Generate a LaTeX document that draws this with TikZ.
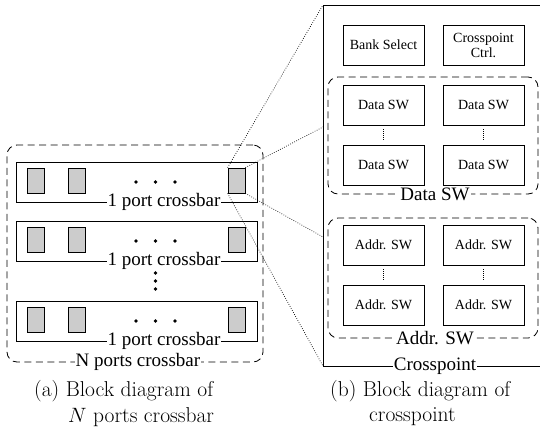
\documentclass[tikz,border=0pt]{standalone}
\usepackage{fontspec}
\setmainfont{Latin Modern Roman}
\newfontfamily\tms{Liberation Serif}
\begin{document}
\begin{tikzpicture}[x=1pt, y=-1pt,
  box/.style={draw, line width=0.8pt, minimum width=81pt, minimum height=40pt,
    inner sep=0pt, align=center, font=\tms\fontsize{14}{15}\selectfont},
  rowbox/.style={draw, line width=0.8pt, minimum width=241pt, minimum height=40pt,
    inner sep=0pt, anchor=north west},
  cell/.style={draw, line width=0.8pt, fill=black!20, minimum width=17pt,
    minimum height=25pt, inner sep=0pt},
  grp/.style={draw, line width=0.8pt, dash pattern=on 7pt off 4.5pt,
    rounded corners=10pt, inner sep=0pt},
  lbl/.style={fill=white, inner sep=1pt, font=\tms\fontsize{19}{20}\selectfont},
  zoomline/.style={line width=0.7pt, dash pattern=on 0.7pt off 1.6pt},
  vdots/.style={line width=0.6pt, dash pattern=on 0.6pt off 1.4pt},
  captxt/.style={anchor=west, inner sep=0pt, font=\fontsize{21.5}{24}\selectfont},
  dot/.style={circle, fill, inner sep=0pt, minimum size=3.6pt}]
\useasboundingbox (0,0) rectangle (540,426);

% ---------- (a) N ports crossbar ----------
\node[grp, minimum width=256pt, minimum height=217pt] (nports) at (135,253.5) {};

\foreach \r/\t in {1/162, 2/221, 3/301} {
  \node[rowbox] (row\r) at (16,\t) {};
  \node[cell] (c\r a) at (36,\t+18.5) {};
  \node[cell] (c\r b) at (76.5,\t+18.5) {};
  \node[cell] (c\r c) at (236.5,\t+18.5) {};
  \node[dot] (d\r a) at (136,\t+20) {};
  \node[dot] (d\r b) at (155.5,\t+20) {};
  \node[dot] (d\r c) at (175,\t+20) {};
  \node[lbl] (row\r lbl) at (164,\t+40) {1 port crossbar};
}
\node[dot] (vd1) at (155.5,273) {};
\node[dot] (vd2) at (155.5,281) {};
\node[dot] (vd3) at (155.5,289) {};

\node[lbl] (nportslbl) at (138,362) {N ports crossbar};

% ---------- (b) crosspoint ----------
\coordinate (ftl) at (323,5);
\coordinate (fbl) at (323,366);
\coordinate (ftr) at (540,5);
\coordinate (fbr) at (540,366);
\coordinate (fdata) at (323,127);
\coordinate (faddr) at (323,237);
\draw[line width=0.8pt] (ftr) -- (ftl) -- (fbl) -- (fbr);
\node[lbl] (xplbl) at (435,366) {Crosspoint};

\node[box] (bank) at (383.5,45) {Bank Select};
\node[box] (xpctrl) at (483.5,45) {Crosspoint\\Ctrl.};

\node[grp, minimum width=210pt, minimum height=117pt] (datagrp) at (433,135.5) {};
\node[box] (ds1) at (383.5,105) {Data SW};
\node[box] (ds2) at (483.5,105) {Data SW};
\node[box] (ds3) at (383.5,165) {Data SW};
\node[box] (ds4) at (483.5,165) {Data SW};
\draw[vdots] ([yshift=-4pt]ds1.south) -- ([yshift=4pt]ds3.north);
\draw[vdots] ([yshift=-4pt]ds2.south) -- ([yshift=4pt]ds4.north);
\node[lbl] (datalbl) at (435,194) {Data SW};

\node[grp, minimum width=210pt, minimum height=120pt] (addrgrp) at (433,278) {};
\node[box] (as1) at (383.5,245) {Addr. SW};
\node[box] (as2) at (483.5,245) {Addr. SW};
\node[box] (as3) at (383.5,305) {Addr. SW};
\node[box] (as4) at (483.5,305) {Addr. SW};
\draw[vdots] ([yshift=-4pt]as1.south) -- ([yshift=4pt]as3.north);
\draw[vdots] ([yshift=-4pt]as2.south) -- ([yshift=4pt]as4.north);
\node[lbl] (addrlbl) at (435,338) {Addr. SW};

% ---------- zoom lines ----------
\draw[zoomline] (c1c.north west) -- (ftl);
\draw[zoomline] (c1c.south west) -- (fbl);
\draw[zoomline] (c1c.north east) -- (fdata);
\draw[zoomline] (c1c.south east) -- (faddr);

% ---------- captions ----------
\node[captxt] (capa1) at (34,391) {(a) Block diagram of};
\node[captxt] (capa2) at (68,417) {$N$ ports crossbar};
\node[captxt] (capb1) at (330,391) {(b) Block diagram of};
\node[captxt] (capb2) at (369,417) {crosspoint};
\end{tikzpicture}
\end{document}
